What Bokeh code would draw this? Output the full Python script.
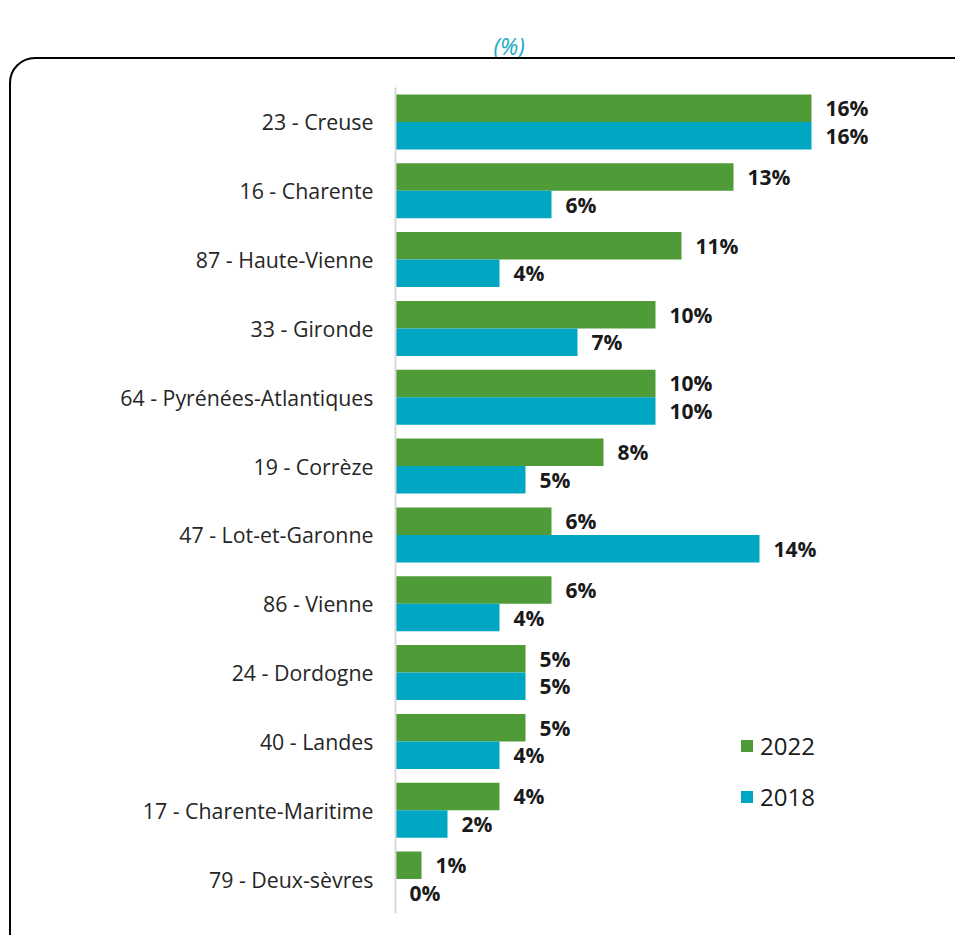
from bokeh.plotting import figure
from bokeh.models import (ColumnDataSource, FactorRange, Range1d, Legend, LegendItem,
                          InlineStyleSheet, Title)
from bokeh.transform import dodge
from bokeh.core.properties import value
from bokeh.embed import file_html
from bokeh.resources import INLINE

departments = ["23 - Creuse", "16 - Charente", "87 - Haute-Vienne", "33 - Gironde",
               "64 - Pyrénées-Atlantiques", "19 - Corrèze", "47 - Lot-et-Garonne",
               "86 - Vienne", "24 - Dordogne", "40 - Landes", "17 - Charente-Maritime",
               "79 - Deux-sèvres"]
values_2022 = [16, 13, 11, 10, 10, 8, 6, 6, 5, 5, 4, 1]
values_2018 = [16, 6, 4, 7, 10, 5, 14, 4, 5, 4, 2, 0]
series_names = ["2022", "2018"]
title_text = "(%)"

GREEN = "#4E9B37"
TEAL = "#00A6C2"
FONT = "Open Sans"

src = ColumnDataSource(dict(
    dept=departments,
    v2022=values_2022,
    v2018=values_2018,
    l2022=[f"{v}%" for v in values_2022],
    l2018=[f"{v}%" for v in values_2018],
))

W, H = 955, 935
LEFT, TOP, BOTTOM = 395, 87, 22
PX_PER_UNIT = 26.0

box_css = InlineStyleSheet(css="""
:host { position: relative; overflow: hidden; }
:host::after {
  content: "";
  position: absolute;
  left: 9px; top: 57px; right: -40px; bottom: -40px;
  border: 2px solid #000;
  border-radius: 26px;
  pointer-events: none;
}
""")

p = figure(width=W, height=H, output_backend="svg", toolbar_location=None,
           y_range=FactorRange(factors=list(reversed(departments))),
           x_range=Range1d(0, (W - LEFT) / PX_PER_UNIT),
           min_border_left=LEFT, min_border_top=TOP, min_border_bottom=BOTTOM,
           min_border_right=0, stylesheets=[box_css])
p.outline_line_color = None
p.grid.visible = False
p.xaxis.visible = False
p.background_fill_color = None
p.border_fill_color = None

p.title = Title(text=title_text, align="left", offset=(510 - LEFT) - 17,
                vertical_align="top",
                text_font=FONT, text_font_style="italic", text_font_size="23px",
                text_color="#1AABCB", standoff=48)

r1 = p.hbar(y=dodge("dept", 0.2, range=p.y_range), right="v2022", left=0, height=0.4,
            source=src, fill_color=GREEN, line_color=None)
r2 = p.hbar(y=dodge("dept", -0.2, range=p.y_range), right="v2018", left=0, height=0.4,
            source=src, fill_color=TEAL, line_color=None)

for col, lab, off in (("v2022", "l2022", 0.2), ("v2018", "l2018", -0.2)):
    p.text(x=col, y=dodge("dept", off, range=p.y_range), text=lab, source=src,
           x_offset=14, text_align="left", text_baseline="middle",
           text_font=value(FONT), text_font_style="bold", text_font_size="21px",
           text_color="#1a1a1a")

yax = p.yaxis[0]
yax.axis_line_color = "#D9D9D9"
yax.axis_line_width = 2
yax.major_tick_line_color = None
yax.minor_tick_line_color = None
yax.major_tick_out = 0
yax.major_tick_in = 0
yax.major_label_standoff = 22
yax.major_label_text_font = FONT
yax.major_label_text_font_size = "21.33px"
yax.major_label_text_color = "#262626"

legend = Legend(items=[LegendItem(label=series_names[0], renderers=[r1]),
                       LegendItem(label=series_names[1], renderers=[r2])],
                location=(344, 100), orientation="vertical",
                glyph_width=15, glyph_height=15, label_standoff=6,
                label_text_font=FONT, label_text_font_size="24px",
                label_text_color="#1a1a1a", label_height=20, spacing=18,
                padding=0, margin=0, border_line_color=None,
                background_fill_alpha=0)
p.add_layout(legend)

open("out.html", "w").write(file_html(p, INLINE))
